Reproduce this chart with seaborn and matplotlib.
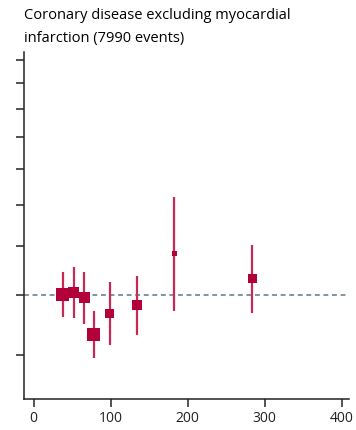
import numpy as np
import pandas as pd
import matplotlib
matplotlib.use("Agg")
import matplotlib.pyplot as plt
from matplotlib.ticker import FixedLocator, NullFormatter, NullLocator
import seaborn as sns

# Hazard ratios (log scale) by mean exposure group, with 95% CIs
exposure = [38, 52, 66, 78, 99, 134, 183, 284]
hazard_ratio = [1.004, 1.010, 0.991, 0.865, 0.935, 0.965, 1.169, 1.064]
ci_low = [0.921, 0.918, 0.898, 0.793, 0.831, 0.863, 0.943, 0.937]
ci_high = [1.089, 1.110, 1.092, 0.944, 1.052, 1.076, 1.441, 1.206]

title_lines = ["Coronary disease excluding myocardial", "infarction (7990 events)"]
x_ticks = [0, 100, 200, 300, 400]
y_ticks = [0.8, 1.0, 1.2, 1.4, 1.6, 1.8, 2.0, 2.2, 2.4]

df = pd.DataFrame({"exposure": exposure, "hr": hazard_ratio,
                   "lo": ci_low, "hi": ci_high})
# Box area proportional to inverse variance (side ~ 1/SE of log HR)
df["se"] = (np.log(df["hi"]) - np.log(df["lo"])) / (2 * 1.96)
df["box"] = (0.40 / df["se"]) ** 2

sns.set_theme(style="ticks")
plt.rcParams["font.family"] = ["Open Sans", "DejaVu Sans"]

fig = plt.figure(figsize=(3.56, 4.30), dpi=100)
ax = fig.add_axes([24.3 / 356, 31 / 430, 325 / 356, 347.3 / 430])

red = "#b2003a"
ax.set_yscale("log")
ax.axhline(1.0, color="#5e7884", lw=1.1, dashes=(3.2, 2.4), zorder=1)
ax.vlines(df["exposure"], df["lo"], df["hi"], color="#c62a54", lw=1.6, zorder=2)
sns.scatterplot(data=df, x="exposure", y="hr", size="box",
                sizes=(df["box"].min(), df["box"].max()),
                size_norm=(df["box"].min(), df["box"].max()),
                marker="s", color=red, linewidth=0, legend=False,
                ax=ax, zorder=3)

ax.set_xlim(-12, 410)
ax.set_ylim(0.68, 2.475)
ax.set_xticks(x_ticks)
ax.set_xticklabels([str(t) for t in x_ticks])
ax.yaxis.set_major_locator(FixedLocator(y_ticks))
ax.yaxis.set_major_formatter(NullFormatter())
ax.yaxis.set_minor_locator(NullLocator())
ax.yaxis.set_minor_formatter(NullFormatter())
ax.set_xlabel("")
ax.set_ylabel("")

for side in ("top", "right"):
    ax.spines[side].set_visible(False)
for side in ("left", "bottom"):
    ax.spines[side].set_linewidth(1.1)
    ax.spines[side].set_color("#222222")
ax.tick_params(axis="both", length=6, width=1.1, color="#222222")
ax.tick_params(axis="x", labelsize=10, pad=2.5, labelcolor="#222222")

fig.text(24 / 356, 1 - 19 / 430, title_lines[0], fontsize=10.5, va="baseline",
         ha="left", color="#000000")
fig.text(24 / 356, 1 - 41.7 / 430, title_lines[1], fontsize=10.5, va="baseline",
         ha="left", color="#000000")

fig.savefig("out.png", dpi=100)
